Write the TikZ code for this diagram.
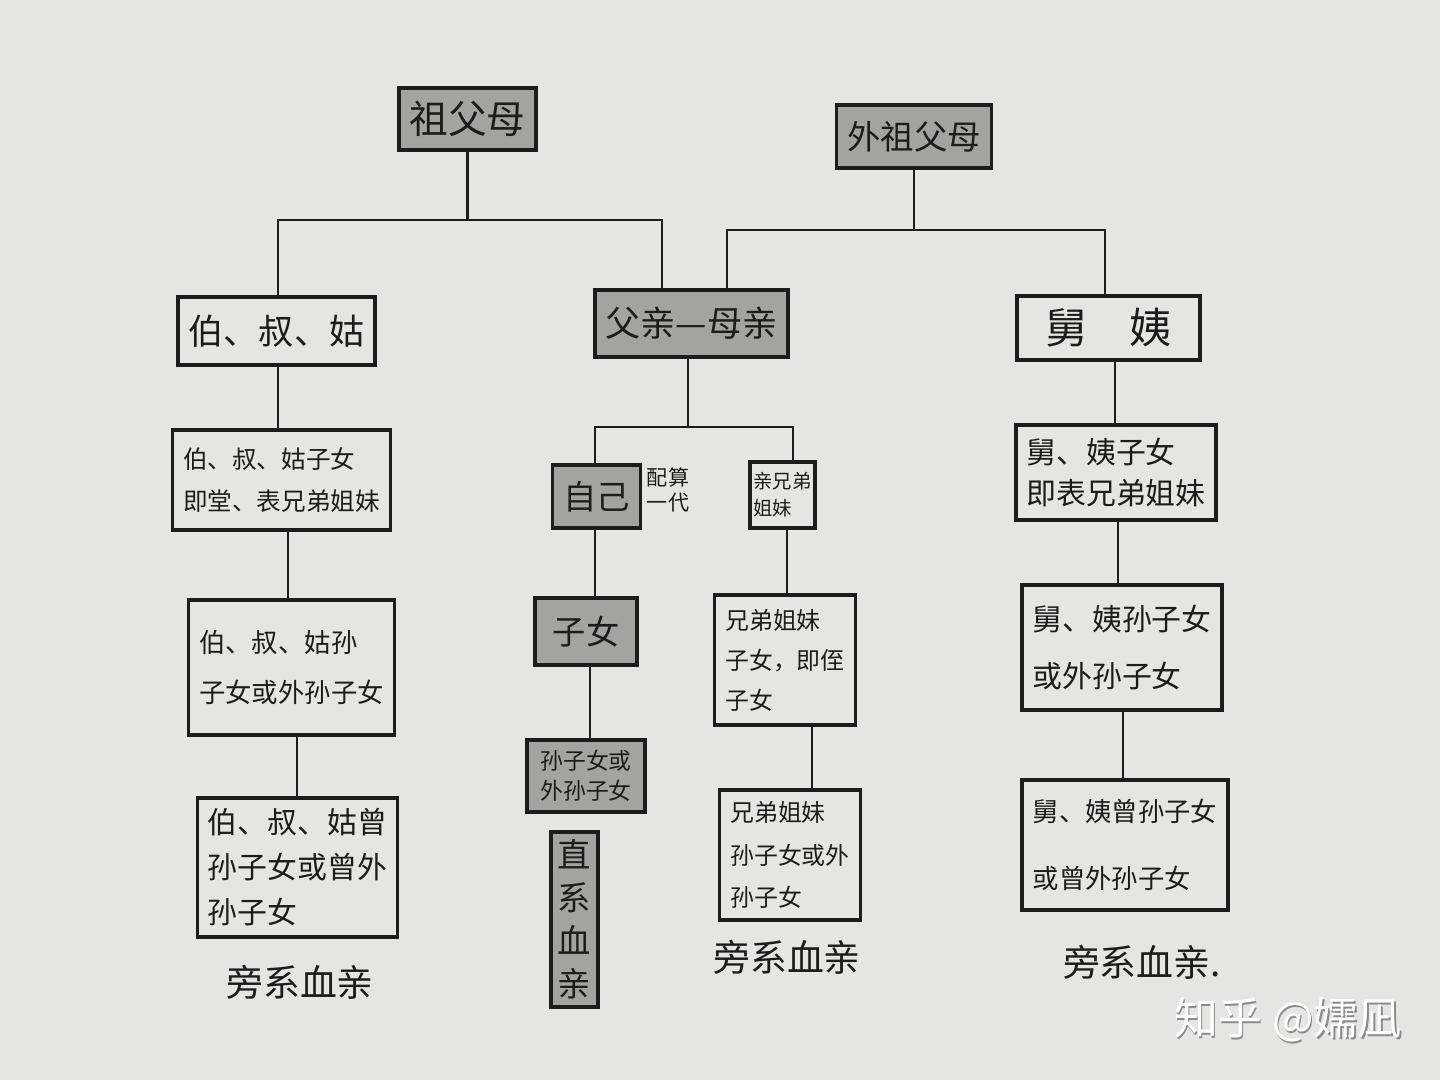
\documentclass[tikz,border=0pt]{standalone}
\usepackage{fontspec}
\setmainfont{Noto Sans CJK SC}
\usetikzlibrary{positioning}
\definecolor{paper}{RGB}{229,229,227}
\definecolor{pencil}{RGB}{163,163,161}
\definecolor{ink}{RGB}{28,28,28}
\newcommand{\fs}[2]{\fontsize{#1}{#2}\selectfont}

\begin{document}
\begin{tikzpicture}[x=1cm,y=1cm,
    kin node/.style={draw=ink,line width=1pt,rectangle,inner sep=3pt,align=left,text=ink},
    shaded node/.style={kin node,fill=pencil},
    blood label/.style={text=ink,font=\fs{10.5}{12}},
    link/.style={draw=ink,line width=0.7pt}]

  % paper
  \fill[paper] (0,0) rectangle (14.4,-10.8);

  % grandparents
  \node[shaded node,minimum width=1.25cm,minimum height=0.62cm,font=\fs{11}{13}] (gp) at (4.675,-1.19) {祖父母};
  \node[shaded node,minimum width=1.28cm,minimum height=0.63cm,font=\fs{9.5}{11}] (wgp) at (9.14,-1.365) {外祖父母};

  % second row
  \node[kin node,minimum width=1.97cm,minimum height=0.68cm,font=\fs{10}{12}] (uncles) at (2.765,-3.31) {伯、叔、姑};
  \node[shaded node,minimum width=1.87cm,minimum height=0.67cm,font=\fs{10}{12}] (par) at (6.915,-3.235) {父亲—母亲};
  \node[kin node,minimum width=1.83cm,minimum height=0.64cm,font=\fs{12}{14}] (aunts) at (11.085,-3.28) {舅　姨};

  % own generation
  \node[kin node,minimum width=1.97cm,minimum height=1.00cm,font=\fs{7}{12}] (cous) at (2.815,-4.80) {伯、叔、姑子女\\即堂、表兄弟姐妹};
  \node[shaded node,minimum width=0.77cm,minimum height=0.63cm,font=\fs{9.5}{11}] (self) at (5.965,-4.965) {自己};
  \node[align=left,text=ink,inner sep=0pt,font=\fs{6}{7}] (selfnote) at (6.68,-4.90) {配算\\一代};
  \node[kin node,minimum width=0.65cm,minimum height=0.66cm,inner sep=1pt,font=\fs{5.5}{7.7}] (sibs) at (7.825,-4.95) {亲兄弟\\姐妹};
  \node[kin node,minimum width=1.92cm,minimum height=0.95cm,font=\fs{8.5}{11.5}] (mcous) at (11.16,-4.725) {舅、姨子女\\即表兄弟姐妹};

  % next generation
  \node[kin node,minimum width=1.97cm,minimum height=1.35cm,font=\fs{7.5}{14}] (cousk) at (2.915,-6.675) {伯、叔、姑孙\\子女或外孙子女};
  \node[shaded node,minimum width=1.02cm,minimum height=0.67cm,font=\fs{9.5}{11}] (kids) at (5.86,-6.315) {子女};
  \node[kin node,minimum width=1.30cm,minimum height=1.30cm,font=\fs{6.8}{11.4}] (sibk) at (7.85,-6.60) {兄弟姐妹\\子女，即侄\\子女};
  \node[kin node,minimum width=1.90cm,minimum height=1.25cm,font=\fs{8.5}{16}] (mcousk) at (11.22,-6.475) {舅、姨孙子女\\或外孙子女};

  % grandchildren
  \node[shaded node,minimum width=1.18cm,minimum height=0.72cm,font=\fs{6.5}{8.5}] (gkids) at (5.86,-7.76) {孙子女或\\外孙子女};
  \node[shaded node,minimum width=0.47cm,minimum height=1.75cm,inner sep=1pt,align=center,font=\fs{9.5}{12.2}] (direct) at (5.745,-9.195) {直\\系\\血\\亲};
  \node[kin node,minimum width=1.95cm,minimum height=1.35cm,font=\fs{8.5}{12.8}] (cousgk) at (2.975,-8.675) {伯、叔、姑曾\\孙子女或曾外\\孙子女};
  \node[kin node,minimum width=1.30cm,minimum height=1.30cm,font=\fs{6.8}{12}] (sibgk) at (7.90,-8.55) {兄弟姐妹\\孙子女或外\\孙子女};
  \node[kin node,minimum width=1.90cm,minimum height=1.30cm,font=\fs{7.5}{19}] (mcousgk) at (11.25,-8.45) {舅、姨曾孙子女\\或曾外孙子女};

  % collateral labels
  \node[blood label] (lab1) at (3.00,-9.82) {旁系血亲};
  \node[blood label] (lab2) at (7.87,-9.57) {旁系血亲};
  \node[blood label] (lab3) at (11.42,-9.62) {旁系血亲.};

  % watermark
  \node[text=black!45,font=\fs{12.5}{14}] (markshadow) at (12.895,-10.215) {知乎 @嬬凪};
  \node[text=white,font=\fs{12.5}{14}] (mark) at (12.88,-10.20) {知乎 @嬬凪};

  % paternal branch
  \draw[link] (gp.south) -- ++(0,-0.68) coordinate (gpbus);
  \draw[link] (gpbus) -| ([xshift=0.015cm]uncles.north);
  \draw[link] (gpbus) -| ([xshift=-0.295cm]par.north);

  % maternal branch
  \draw[link] (wgp.south) -- ++(0,-0.60) coordinate (wgpbus);
  \draw[link] (wgpbus) -| ([xshift=0.355cm]par.north);
  \draw[link] (wgpbus) -| ([xshift=-0.035cm]aunts.north);

  % parents to children
  \draw[link] ([xshift=-0.035cm]par.south) -- ++(0,-0.68) coordinate (parbus);
  \draw[link] (parbus) -| ([xshift=-0.015cm]self.north);
  \draw[link] (parbus) -| ([xshift=0.105cm]sibs.north);

  % down the columns
  \draw[link] ([xshift=0.015cm]uncles.south) -- ([xshift=0.015cm]uncles.south |- cous.north);
  \draw[link] ([xshift=0.065cm]cous.south) -- ([xshift=0.065cm]cous.south |- cousk.north);
  \draw[link] ([xshift=0.055cm]cousk.south) -- ([xshift=0.055cm]cousk.south |- cousgk.north);
  \draw[link] ([xshift=-0.015cm]self.south) -- ([xshift=-0.015cm]self.south |- kids.north);
  \draw[link] ([xshift=0.04cm]kids.south) -- ([xshift=0.04cm]kids.south |- gkids.north);
  \draw[link] ([xshift=0.045cm]sibs.south) -- ([xshift=0.045cm]sibs.south |- sibk.north);
  \draw[link] ([xshift=0.27cm]sibk.south) -- ([xshift=0.27cm]sibk.south |- sibgk.north);
  \draw[link] ([xshift=0.065cm]aunts.south) -- ([xshift=0.065cm]aunts.south |- mcous.north);
  \draw[link] ([xshift=0.02cm]mcous.south) -- ([xshift=0.02cm]mcous.south |- mcousk.north);
  \draw[link] ([xshift=0.01cm]mcousk.south) -- ([xshift=0.01cm]mcousk.south |- mcousgk.north);
\end{tikzpicture}
\end{document}
